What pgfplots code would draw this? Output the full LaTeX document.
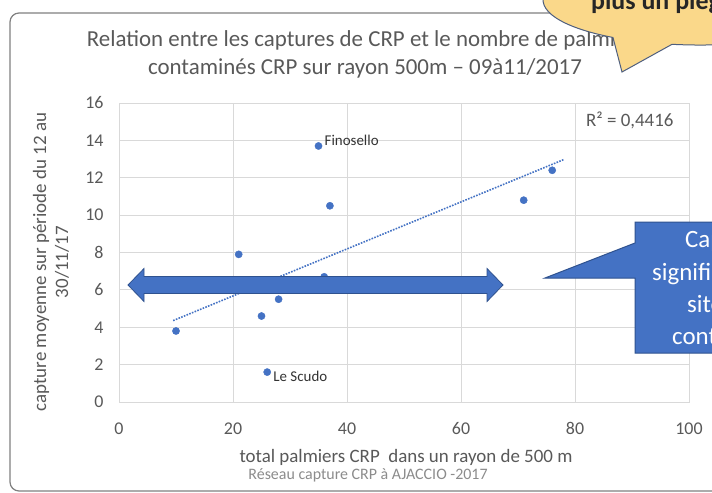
\documentclass[border=0pt]{standalone}
\usepackage{fontspec}
\setmainfont{Carlito}
\usepackage{pgfplots}
\pgfplotsset{compat=1.18}
\usepackage{pgfplotstable}
\definecolor{xblue}{HTML}{4472C4}
\definecolor{xblueedge}{HTML}{2F528F}
\definecolor{txt}{HTML}{595959}
\definecolor{gridc}{HTML}{D9D9D9}
\definecolor{callout}{HTML}{FAD88A}
\definecolor{calloutedge}{HTML}{4F5F7F}

\pgfplotstableread{
x y dy label
10 3.8 0 {}
21 7.9 0 {}
25 4.6 0 {}
26 1.6 -4 {Le Scudo}
28 5.5 0 {}
35 13.7 6 {Finosello}
36 6.7 0 {}
37 10.5 0 {}
71 10.8 0 {}
76 12.4 0 {}
}\crpdata

\pgfplotstableread{
x y
9.5 4.356
78 12.97
}\trend

\begin{document}
\begin{tikzpicture}
\useasboundingbox (0,0) rectangle (712bp,-493bp);
\clip (0,0) rectangle (712bp,-493bp);
\fill[white] (0,0) rectangle (712bp,-493bp);
\draw[color=black!50, line width=1.2bp, rounded corners=9bp] (10bp,-13bp) rectangle (760bp,-491bp);
\begin{axis}[
 scale only axis, width=570bp, height=299bp,
 at={(119bp,-402bp)}, anchor=south west,
 xmin=0,xmax=100,ymin=0,ymax=16,
 xtick={0,20,...,100}, ytick={0,2,...,16},
 grid=major, major grid style={draw=gridc, line width=0.8bp},
 axis line style={draw=gridc, line width=0.8bp},
 major tick length=0pt,
 tick label style={font=\fontsize{18}{20}\selectfont, text=txt},
 /pgf/number format/assume math mode=true,
 xticklabel style={yshift=-17bp},
 yticklabel style={xshift=-12bp},
 clip=false,
]
\addplot[xblue, line width=1.6bp, dash pattern=on 1.6bp off 1.3bp] table[x=x,y=y] {\trend};
\addplot[only marks, mark=*, mark size=3.6bp, mark options={fill=xblue, draw=xblue},
  nodes near coords, point meta=explicit symbolic,
  visualization depends on={\thisrow{dy}\as\dy},
  every node near coord/.append style={anchor=west, inner sep=1bp, xshift=5bp, yshift=\dy*1bp,
     font=\fontsize{15}{17}\selectfont, text=black!80}]
  table[x=x,y=y,meta=label] {\crpdata};
\end{axis}
\node[anchor=east, font=\fontsize{19}{21}\selectfont, text=txt] at (677bp,-120bp) {R² = 0,4416};
\node[align=center, font=\fontsize{23}{28}\selectfont, text=txt] at (365bp,-54bp)
  {Relation entre les captures de CRP et le nombre de palmiers\\contaminés CRP sur rayon 500m – 09à11/2017};
\node[rotate=90, align=center, font=\fontsize{19}{22}\selectfont, text=txt] at (51bp,-262bp)
  {capture moyenne sur période du 12 au\\30/11/17};
\node[font=\fontsize{19}{22}\selectfont, text=txt] at (406bp,-457bp) {total palmiers CRP\ \ dans un rayon de 500 m};
\node[font=\fontsize{16}{18}\selectfont, text=black!45] at (368bp,-475bp) {Réseau capture CRP à AJACCIO -2017};
% double arrow
\filldraw[fill=xblue, draw=xblueedge, line width=0.8bp]
 (128bp,-285bp) -- (144bp,-268.5bp) -- (144bp,-276.5bp) -- (487bp,-276.5bp) -- (487bp,-268.5bp)
 -- (503bp,-285bp) -- (487bp,-301.5bp) -- (487bp,-293.5bp) -- (144bp,-293.5bp) -- (144bp,-301.5bp) -- cycle;
% blue callout
\filldraw[fill=xblue, draw=xblueedge, line width=1bp]
 (635bp,-222bp) -- (635bp,-243bp) -- (545bp,-278bp) -- (635bp,-278bp) -- (635bp,-353bp)
 -- (740bp,-353bp) -- (740bp,-222bp) -- cycle;
\begin{scope}[every node/.style={anchor=base west, inner sep=0, text=white, font=\fontsize{25}{27}\selectfont}]
\node at (685bp,-247bp) {Captures};
\node at (652bp,-280bp) {significatives};
\node at (687bp,-312bp) {sites};
\node at (672bp,-344bp) {contaminés};
\end{scope}
% yellow callout
\filldraw[fill=callout, draw=calloutedge, line width=1bp]
 (672bp,-44.3bp) arc[start angle=259.7, end angle=596.3, x radius=157bp, y radius=45bp]
 -- (622bp,-72bp) -- cycle;
\node[anchor=base west, inner sep=0, font=\bfseries\fontsize{26}{28}\selectfont, text=black!85] at (591bp,-9bp) {plus un piège};
\end{tikzpicture}
\end{document}
